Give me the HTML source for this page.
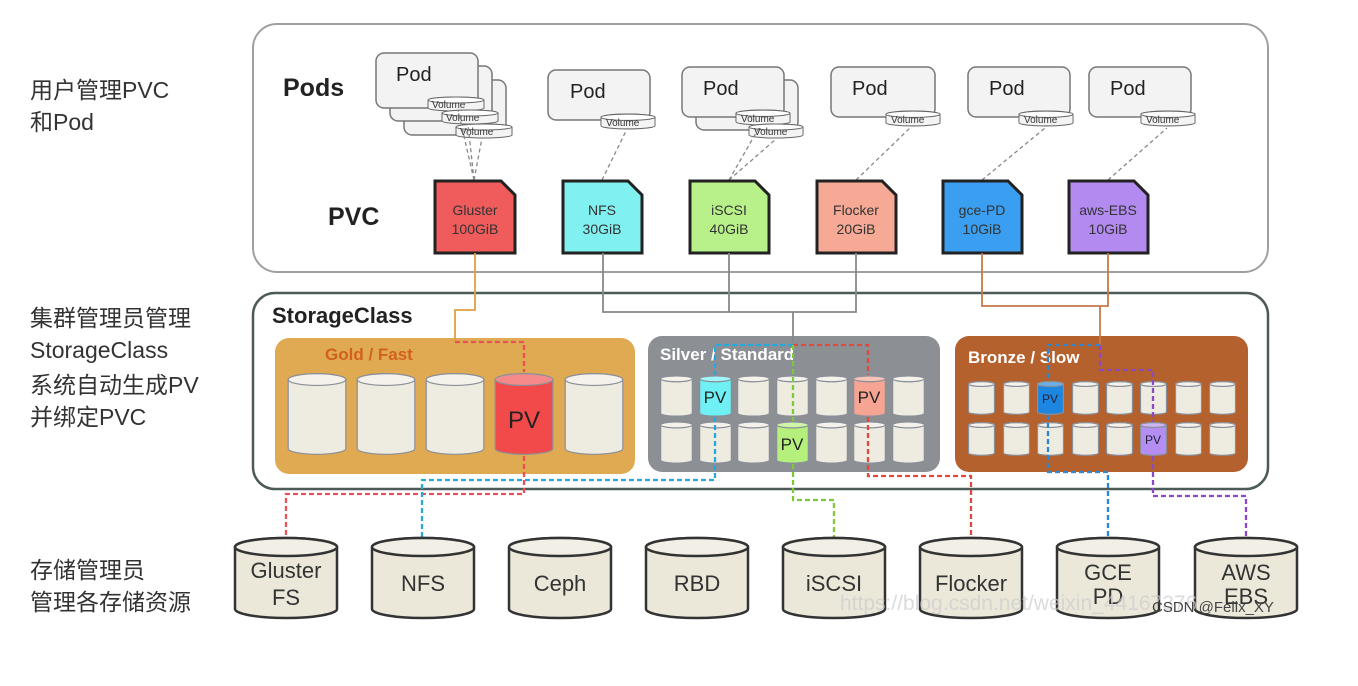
<!DOCTYPE html>
<html><head><meta charset="utf-8"><style>
html,body{margin:0;padding:0;background:#fff;width:1358px;height:686px;overflow:hidden}
svg{display:block}
text{font-family:"Liberation Sans","Noto Sans CJK SC",sans-serif}
</style></head><body>
<svg width="1358" height="686" viewBox="0 0 1358 686" xmlns="http://www.w3.org/2000/svg">
<defs>
<symbol id="cyl" viewBox="0 0 100 100" preserveAspectRatio="none">
<path d="M2,9 A48,7 0 0 1 98,9 L98,91 A48,7 0 0 1 2,91 Z" stroke="#8a8f99" stroke-width="1.2" vector-effect="non-scaling-stroke"/>
<ellipse cx="50" cy="9" rx="48" ry="7" fill="#fff" fill-opacity="0.35" stroke="#8a8f99" stroke-width="1.2" vector-effect="non-scaling-stroke"/>
</symbol>
<symbol id="bcyl" viewBox="0 0 106 84" preserveAspectRatio="none">
<path d="M2,11 A51,9 0 0 1 104,11 L104,73 A51,9 0 0 1 2,73 Z" fill="#ebe8da" stroke="#333" stroke-width="2.5"/>
<ellipse cx="53" cy="11" rx="51" ry="9" fill="#f2f0e6" stroke="#333" stroke-width="2.5"/>
</symbol>
<symbol id="vol" viewBox="0 0 58 16" preserveAspectRatio="none">
<path d="M1,4 A28,3 0 0 1 57,4 L57,12 A28,3 0 0 1 1,12 Z" fill="#f4f4f4" stroke="#666" stroke-width="1"/>
<ellipse cx="29" cy="4" rx="28" ry="3" fill="#fff" stroke="#666" stroke-width="1"/>
</symbol>
</defs>

<g font-size="23" fill="#333">
<text x="30" y="98">用户管理PVC</text><text x="30" y="130">和Pod</text>
<text x="30" y="326">集群管理员管理</text><text x="30" y="358">StorageClass</text>
<text x="30" y="393">系统自动生成PV</text><text x="30" y="425">并绑定PVC</text>
<text x="30" y="578">存储管理员</text><text x="30" y="610">管理各存储资源</text>
</g>

<rect x="253" y="24" width="1015" height="248" rx="24" fill="#fff" stroke="#a0a0a0" stroke-width="2"/>
<text x="283" y="96" font-size="25" font-weight="bold" fill="#222">Pods</text>
<text x="328" y="225" font-size="25" font-weight="bold" fill="#222">PVC</text>

<g fill="#f3f3f3" stroke="#777" stroke-width="1.5">
<rect x="404" y="80" width="102" height="55" rx="8"/>
<rect x="390" y="66" width="102" height="55" rx="8"/>
<rect x="376" y="53" width="102" height="55" rx="8"/>
<rect x="548" y="70" width="102" height="50" rx="8"/>
<rect x="696" y="80" width="102" height="50" rx="8"/>
<rect x="682" y="67" width="102" height="50" rx="8"/>
<rect x="831" y="67" width="104" height="50" rx="8"/>
<rect x="968" y="67" width="102" height="50" rx="8"/>
<rect x="1089" y="67" width="102" height="50" rx="8"/>
</g>
<g font-size="20" fill="#222">
<text x="396" y="81">Pod</text><text x="570" y="98">Pod</text><text x="703" y="95">Pod</text>
<text x="852" y="95">Pod</text><text x="989" y="95">Pod</text><text x="1110" y="95">Pod</text>
</g>
<g>
<use href="#vol" x="427" y="96" width="58" height="16"/>
<use href="#vol" x="441" y="109" width="58" height="16"/>
<use href="#vol" x="455" y="123" width="58" height="16"/>
<use href="#vol" x="600" y="113" width="56" height="17"/>
<use href="#vol" x="735" y="109" width="56" height="17"/>
<use href="#vol" x="748" y="123" width="56" height="16"/>
<use href="#vol" x="885" y="110" width="56" height="17"/>
<use href="#vol" x="1018" y="110" width="56" height="17"/>
<use href="#vol" x="1140" y="110" width="56" height="17"/>
</g>
<g font-size="10" fill="#333">
<text x="432" y="108">Volume</text><text x="446" y="121">Volume</text><text x="460" y="135">Volume</text>
<text x="606" y="126">Volume</text><text x="741" y="122">Volume</text><text x="754" y="135">Volume</text>
<text x="891" y="123">Volume</text><text x="1024" y="123">Volume</text><text x="1146" y="123">Volume</text>
</g>
<g stroke="#888" stroke-width="1.3" stroke-dasharray="4,3" fill="none">
<path d="M474,180 L458,110 M474,180 L468,124 M474,180 L482,138"/>
<path d="M602,180 L626,131"/>
<path d="M729,180 L760,126 M729,180 L776,139"/>
<path d="M856,180 L910,128"/>
<path d="M982,180 L1045,128"/>
<path d="M1108,180 L1167,128"/>
</g>

<g stroke="#222" stroke-width="3">
<path d="M435,181 H501 L515,195 V253 H435 Z" fill="#f05c5c"/>
<path d="M563,181 H628 L642,195 V253 H563 Z" fill="#80f0f0"/>
<path d="M690,181 H755 L769,195 V253 H690 Z" fill="#b8f08a"/>
<path d="M817,181 H882 L896,195 V253 H817 Z" fill="#f6a994"/>
<path d="M943,181 H1008 L1022,195 V253 H943 Z" fill="#3a9ff0"/>
<path d="M1069,181 H1134 L1148,195 V253 H1069 Z" fill="#b28af0"/>
</g>
<g font-size="14" fill="#333" text-anchor="middle">
<text x="475" y="215">Gluster</text><text x="475" y="234">100GiB</text>
<text x="602" y="215">NFS</text><text x="602" y="234">30GiB</text>
<text x="729" y="215">iSCSI</text><text x="729" y="234">40GiB</text>
<text x="856" y="215">Flocker</text><text x="856" y="234">20GiB</text>
<text x="982" y="215">gce-PD</text><text x="982" y="234">10GiB</text>
<text x="1108" y="215">aws-EBS</text><text x="1108" y="234">10GiB</text>
</g>

<rect x="253" y="293" width="1015" height="196" rx="22" fill="#fff" stroke="#4c5b57" stroke-width="2.5"/>
<text x="272" y="323" font-size="22" font-weight="bold" fill="#222">StorageClass</text>

<rect x="275" y="338" width="360" height="136" rx="14" fill="#dfaa52"/>
<text x="325" y="360" font-size="17" font-weight="bold" fill="#d4601e">Gold / Fast</text>
<rect x="648" y="336" width="292" height="136" rx="14" fill="#8c8f94"/>
<text x="660" y="360" font-size="17" font-weight="bold" fill="#fff">Silver / Standard</text>
<rect x="955" y="336" width="293" height="136" rx="14" fill="#b5612d"/>
<text x="968" y="363" font-size="17" font-weight="bold" fill="#fff">Bronze / Slow</text>

<g fill="#eeebe1">
<use href="#cyl" x="287" y="372" width="60" height="84"/>
<use href="#cyl" x="356" y="372" width="60" height="84"/>
<use href="#cyl" x="425" y="372" width="60" height="84"/>
<use href="#cyl" x="564" y="372" width="60" height="84"/>
</g>
<use href="#cyl" x="494" y="372" width="60" height="84" fill="#f24a4a"/>
<text x="524" y="428" font-size="24" text-anchor="middle" fill="#222">PV</text>

<g fill="#eeebe1">
<use href="#cyl" x="660" y="375" width="33" height="42"/>
<use href="#cyl" x="737" y="375" width="33" height="42"/>
<use href="#cyl" x="776" y="375" width="33" height="42"/>
<use href="#cyl" x="815" y="375" width="33" height="42"/>
<use href="#cyl" x="892" y="375" width="33" height="42"/>
<use href="#cyl" x="660" y="421" width="33" height="43"/>
<use href="#cyl" x="699" y="421" width="33" height="43"/>
<use href="#cyl" x="737" y="421" width="33" height="43"/>
<use href="#cyl" x="815" y="421" width="33" height="43"/>
<use href="#cyl" x="853" y="421" width="33" height="43"/>
<use href="#cyl" x="892" y="421" width="33" height="43"/>
</g>
<use href="#cyl" x="699" y="375" width="33" height="42" fill="#6ef0f4"/>
<use href="#cyl" x="853" y="375" width="33" height="42" fill="#f6a592"/>
<use href="#cyl" x="776" y="421" width="33" height="43" fill="#b5f07c"/>
<g font-size="17" fill="#222" text-anchor="middle">
<text x="715" y="403">PV</text><text x="869" y="403">PV</text><text x="792" y="450">PV</text>
</g>

<g fill="#eeebe1">
<use href="#cyl" x="968" y="381" width="27" height="34"/>
<use href="#cyl" x="1003" y="381" width="27" height="34"/>
<use href="#cyl" x="1072" y="381" width="27" height="34"/>
<use href="#cyl" x="1106" y="381" width="27" height="34"/>
<use href="#cyl" x="1140" y="381" width="27" height="34"/>
<use href="#cyl" x="1175" y="381" width="27" height="34"/>
<use href="#cyl" x="1209" y="381" width="27" height="34"/>
<use href="#cyl" x="968" y="422" width="27" height="34"/>
<use href="#cyl" x="1003" y="422" width="27" height="34"/>
<use href="#cyl" x="1037" y="422" width="27" height="34"/>
<use href="#cyl" x="1072" y="422" width="27" height="34"/>
<use href="#cyl" x="1106" y="422" width="27" height="34"/>
<use href="#cyl" x="1175" y="422" width="27" height="34"/>
<use href="#cyl" x="1209" y="422" width="27" height="34"/>
</g>
<use href="#cyl" x="1037" y="381" width="27" height="34" fill="#1d86e0"/>
<use href="#cyl" x="1140" y="422" width="27" height="34" fill="#b48ef2"/>
<g font-size="12" fill="#223" text-anchor="middle">
<text x="1050" y="403">PV</text><text x="1153" y="444">PV</text>
</g>

<g fill="none" stroke-width="1.8">
<path d="M475,253 V310 H455 V342" stroke="#e0a040"/>
<path d="M603,253 V312 H856 V253 M729,253 V312 M793,312 V342" stroke="#888"/>
<path d="M982,253 V306 H1108 V253 M1100,306 V345" stroke="#c8784a"/>
</g>
<g fill="none" stroke-width="2.3" stroke-dasharray="5,3">
<path d="M455,342 H524 V372 M524,456 V494 H286 V537" stroke="#e8505a"/>
<path d="M793,345 H715 V375 M715,417 V480 H422 V537" stroke="#2aa6d8"/>
<path d="M793,345 H868 V375 M868,417 V476 H971 V537" stroke="#e04a3a"/>
<path d="M793,345 V421 M793,464 V500 H834 V537" stroke="#7ec83a"/>
<path d="M1100,345 H1048 V381 M1048,415 V472 H1108 V537" stroke="#2a86d0"/>
<path d="M1100,345 V370 H1153 V422 M1153,456 V496 H1246 V537" stroke="#8a4ac8"/>
</g>

<use href="#bcyl" x="233" y="536" width="106" height="84"/>
<use href="#bcyl" x="370" y="536" width="106" height="84"/>
<use href="#bcyl" x="507" y="536" width="106" height="84"/>
<use href="#bcyl" x="644" y="536" width="106" height="84"/>
<use href="#bcyl" x="781" y="536" width="106" height="84"/>
<use href="#bcyl" x="918" y="536" width="106" height="84"/>
<use href="#bcyl" x="1055" y="536" width="106" height="84"/>
<use href="#bcyl" x="1193" y="536" width="106" height="84"/>
<g font-size="22" fill="#333" text-anchor="middle">
<text x="286" y="578">Gluster</text><text x="286" y="605">FS</text>
<text x="423" y="591">NFS</text>
<text x="560" y="591">Ceph</text>
<text x="697" y="591">RBD</text>
<text x="834" y="591">iSCSI</text>
<text x="971" y="591">Flocker</text>
<text x="1108" y="580">GCE</text><text x="1108" y="604">PD</text>
<text x="1246" y="580">AWS</text><text x="1246" y="604">EBS</text>
</g>
<text x="840" y="610" font-size="21" fill="#ccc" fill-opacity="0.7">https://blog.csdn.net/weixin_44167376</text>
<text x="1152" y="612" font-size="15" fill="#444">CSDN @Felix_XY</text>
</svg>
</body></html>
